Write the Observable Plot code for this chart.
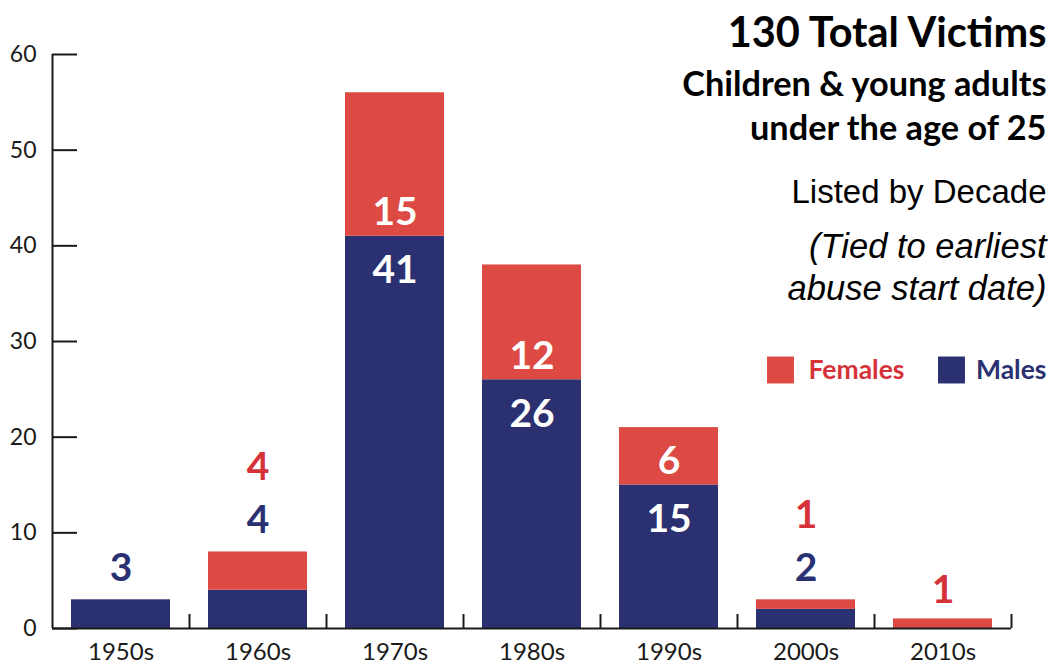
<!DOCTYPE html>
<html>
<head>
<meta charset="utf-8">
<script src="https://cdn.jsdelivr.net/npm/d3@7"></script>
<script src="https://cdn.jsdelivr.net/npm/@observablehq/plot@0.6"></script>
<style>
  html, body { margin: 0; padding: 0; background: #fff; overflow: hidden; }
  svg { display: block; }
</style>
</head>
<body>
<div id="chart"></div>
<script>
// ---- data ----
const decades = ["1950s", "1960s", "1970s", "1980s", "1990s", "2000s", "2010s"];
const males   = [3, 4, 41, 26, 15, 2, 0];
const females = [0, 4, 15, 12, 6, 1, 1];
const yTicks  = [0, 10, 20, 30, 40, 50, 60];
const seriesNames = ["Females", "Males"];
const titleLine = "130 Total Victims";
const subtitleLines = ["Children & young adults", "under the age of 25"];
const noteLine = "Listed by Decade";
const italicLines = ["(Tied to earliest", "abuse start date)"];

// ---- styles ----
const RED = "#DC4A43", NAVY = "#2A3070";
const RED_TXT = "#D6323A", NAVY_TXT = "#2A3172";
const NARROW = "Lato, 'Liberation Sans', sans-serif";
const WIDE = "'Liberation Sans', Arial, sans-serif";
const AX = "#1a1a1a";

const rows = decades.map((d, i) => ({decade: d, male: males[i], female: females[i], total: males[i] + females[i]}));
const stacked = rows.flatMap(r => [
  {decade: r.decade, sex: "Males", value: r.male},
  {decade: r.decade, sex: "Females", value: r.female}
]);
const inside = rows.filter(r => r.total >= 20);
const outside = rows.filter(r => r.total < 20);

const labelStyle = {x: "decade", lineAnchor: "bottom", textAnchor: "middle", fontSize: 39, fontWeight: "bold", fontFamily: NARROW};

const chart = Plot.plot({
  width: 1055,
  height: 664,
  marginLeft: 52,
  marginRight: 44,
  marginTop: 54,
  marginBottom: 36,
  style: {fontFamily: NARROW, color: AX, background: "#fff"},
  x: {domain: decades, paddingInner: 0.28, paddingOuter: 0.14, label: null},
  y: {domain: [0, 60], label: null},
  color: {domain: seriesNames, range: [RED, NAVY]},
  marks: [
    Plot.barY(stacked, {x: "decade", y: "value", fill: "sex"}),
    // axes
    Plot.axisY({ticks: yTicks, tickSize: 0, tickPadding: 16, fontSize: 23, fontFamily: NARROW, fill: AX, label: null}),
    Plot.tickY(yTicks, {y: d => d, insetRight: 934, stroke: AX, strokeWidth: 2}),
    Plot.axisX({tickSize: 0, tickPadding: 14, fontSize: 24, fontFamily: NARROW, fill: AX, label: null}),
    Plot.ruleY([0], {stroke: AX, strokeWidth: 2}),
    Plot.ruleX([decades[0]], {x: d => d, dx: -68.5, stroke: AX, strokeWidth: 2}),
    Plot.ruleX(decades, {x: d => d, dx: 68.5, insetTop: 560, stroke: AX, strokeWidth: 2}),
    // value labels inside tall bars
    Plot.text(inside, {...labelStyle, y: "male", text: r => String(r.female), dy: -11, fill: "white"}),
    Plot.text(inside, {...labelStyle, y: "male", text: r => String(r.male), dy: 47, fill: "white"}),
    // value labels above short bars
    Plot.text(outside.filter(r => r.male > 0), {...labelStyle, y: "total", text: r => String(r.male), dy: -19, fill: NAVY_TXT}),
    Plot.text(outside.filter(r => r.male > 0 && r.female > 0), {...labelStyle, y: "total", text: r => String(r.female), dy: -72, fill: RED_TXT}),
    Plot.text(outside.filter(r => r.male === 0 && r.female > 0), {...labelStyle, y: "total", text: r => String(r.female), dy: -16, fill: RED_TXT}),
    // title block
    Plot.text([titleLine], {frameAnchor: "top-right", text: d => d, dx: 35, dy: -8, textAnchor: "end", lineAnchor: "bottom", fontSize: 41.5, fontWeight: "bold", fontFamily: NARROW, fill: "#000"}),
    Plot.text([subtitleLines[0]], {frameAnchor: "top-right", text: d => d, dx: 35, dy: 41, textAnchor: "end", lineAnchor: "bottom", fontSize: 34.3, fontWeight: "bold", fontFamily: NARROW, fill: "#000"}),
    Plot.text([subtitleLines[1]], {frameAnchor: "top-right", text: d => d, dx: 35, dy: 85, textAnchor: "end", lineAnchor: "bottom", fontSize: 34.3, fontWeight: "bold", fontFamily: NARROW, fill: "#000"}),
    Plot.text([noteLine], {frameAnchor: "top-right", text: d => d, dx: 35, dy: 148, textAnchor: "end", lineAnchor: "bottom", fontSize: 33, fontFamily: WIDE, fill: "#000"}),
    Plot.text([italicLines[0]], {frameAnchor: "top-right", text: d => d, dx: 35, dy: 203, textAnchor: "end", lineAnchor: "bottom", fontSize: 34.5, fontStyle: "italic", fontFamily: WIDE, fill: "#000"}),
    Plot.text([italicLines[1]], {frameAnchor: "top-right", text: d => d, dx: 35, dy: 245, textAnchor: "end", lineAnchor: "bottom", fontSize: 34.5, fontStyle: "italic", fontFamily: WIDE, fill: "#000"}),
    // legend
    Plot.dot([seriesNames[0]], {frameAnchor: "top-right", symbol: "square", r: 15.2, fill: RED, dx: -231, dy: 315.5}),
    Plot.text([seriesNames[0]], {frameAnchor: "top-right", text: d => d, dx: -203, dy: 324, textAnchor: "start", lineAnchor: "bottom", fontSize: 26.5, fontWeight: "bold", fontFamily: NARROW, fill: RED_TXT}),
    Plot.dot([seriesNames[1]], {frameAnchor: "top-right", symbol: "square", r: 15.2, fill: NAVY, dx: -60, dy: 315.5}),
    Plot.text([seriesNames[1]], {frameAnchor: "top-right", text: d => d, dx: 35, dy: 324, textAnchor: "end", lineAnchor: "bottom", fontSize: 26.5, fontWeight: "bold", fontFamily: NARROW, fill: NAVY_TXT})
  ]
});
document.getElementById("chart").appendChild(chart);
</script>
</body>
</html>
